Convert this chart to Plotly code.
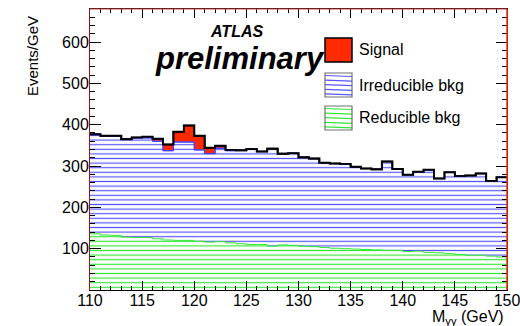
import plotly.graph_objects as go

# Bin lower edges (GeV), 1 GeV bins from 110 to 150
bin_edges = list(range(110, 151))

# Stacked total (signal + irreducible + reducible), per bin
total = [377, 373, 373, 365, 369, 371, 366, 352, 383, 398,
         373, 344, 349, 339, 338, 341, 335, 342, 330, 331,
         321, 318, 308, 306, 305, 298, 294, 292, 311, 293,
         279, 286, 291, 270, 285, 276, 277, 282, 264, 273]

# Signal contribution per bin
signal = [0, 0, 0, 0, 1, 3, 6, 15, 25, 40,
          34, 14, 6, 2, 0, 0, 0, 0, 0, 0,
          0, 0, 0, 0, 0, 0, 0, 0, 0, 0,
          0, 0, 0, 0, 0, 0, 0, 0, 0, 0]

# Reducible background per bin
reducible = [136, 133, 132, 128, 127, 127, 124, 121, 120, 120,
             118, 116, 117, 114, 112, 110, 110, 106, 109, 108,
             106, 105, 103, 101, 100, 99, 98, 97, 96, 96,
             93, 94, 91, 90, 88, 86, 84, 84, 82, 80]

# Irreducible background = total - signal - reducible
irreducible = [t - s - r for t, s, r in zip(total, signal, reducible)]

y_ticks = [100, 200, 300, 400, 500, 600]
x_ticks = [110, 115, 120, 125, 130, 135, 140, 145, 150]

legend_labels = ["Signal", "Irreducible bkg", "Reducible bkg"]

FONT = "Liberation Sans, Arial, Helvetica, sans-serif"
BLUE = "#5656ff"
GREEN = "#33e833"
RED = "#ff2a00"


def step(vals):
    return list(vals) + [vals[-1]]


lvl1 = reducible
lvl2 = [a + b for a, b in zip(lvl1, irreducible)]
lvl3 = [a + b for a, b in zip(lvl2, signal)]

fig = go.Figure()

fig.add_trace(go.Scatter(
    x=bin_edges, y=step(lvl1), mode="lines", line=dict(shape="hv", color=GREEN, width=1),
    fill="tozeroy", fillcolor="white",
    fillpattern=dict(shape="-", fgcolor=GREEN, bgcolor="white", size=4.6, solidity=0.26, fillmode="replace"),
    name=legend_labels[2], showlegend=False))

fig.add_trace(go.Scatter(
    x=bin_edges, y=step(lvl2), mode="lines", line=dict(shape="hv", color=BLUE, width=1),
    fill="tonexty", fillcolor="white",
    fillpattern=dict(shape="-", fgcolor=BLUE, bgcolor="white", size=4.6, solidity=0.26, fillmode="replace"),
    name=legend_labels[1], showlegend=False))

fig.add_trace(go.Scatter(
    x=bin_edges, y=step(lvl3), mode="lines", line=dict(shape="hv", color="black", width=2),
    fill="tonexty", fillcolor=RED,
    name=legend_labels[0], showlegend=False))

# redraw irreducible top line above red fill
fig.add_trace(go.Scatter(
    x=bin_edges, y=step(lvl2), mode="lines", line=dict(shape="hv", color="#3a3aff", width=1),
    showlegend=False, hoverinfo="skip"))
# total outline on top
fig.add_trace(go.Scatter(
    x=bin_edges, y=step(lvl3), mode="lines", line=dict(shape="hv", color="black", width=1.6),
    showlegend=False, hoverinfo="skip"))

# figure placed at the window origin (body margin removed by post_script);
# it is a little wider than the window so the last tick label is not hidden
W, H = 540, 326
PX0, PX1, PY0, PY1 = 90, 507, 9, 290  # plot area in window pixels
L, R = PX0, W - PX1
T, B = PY0, H - PY1
pw, ph = PX1 - PX0, PY1 - PY0


def px_x(p):
    return (p - PX0) / pw


def px_y(p):
    return (PY1 - p) / ph


shapes = []
annotations = []

# frame top/right lines (reddish, as in reference)
shapes.append(dict(type="line", xref="paper", yref="paper", x0=0, x1=1, y0=1, y1=1,
                   line=dict(color="#d04040", width=1)))
shapes.append(dict(type="line", xref="paper", yref="paper", x0=1, x1=1, y0=0, y1=1,
                   line=dict(color="#e03000", width=1.5)))

# custom legend boxes
boxes = [(38, 62), (73, 97), (106, 130)]
bx0, bx1 = 325, 352
shapes.append(dict(type="rect", xref="paper", yref="paper",
                   x0=px_x(bx0), x1=px_x(bx1), y0=px_y(boxes[0][1]), y1=px_y(boxes[0][0]),
                   fillcolor=RED, line=dict(color="black", width=1.5)))
for (top, bot), col in zip(boxes[1:], [BLUE, GREEN]):
    p = top + 2.5
    while p < bot - 1:
        shapes.append(dict(type="line", xref="paper", yref="paper",
                           x0=px_x(bx0), x1=px_x(bx1), y0=px_y(p), y1=px_y(p + 1.0),
                           line=dict(color=col, width=1.2)))
        p += 4.6
    shapes.append(dict(type="rect", xref="paper", yref="paper",
                       x0=px_x(bx0), x1=px_x(bx1), y0=px_y(bot), y1=px_y(top),
                       fillcolor="rgba(0,0,0,0)", line=dict(color="#707070", width=1.2)))

for lab, (top, bot) in zip(legend_labels, boxes):
    annotations.append(dict(text=lab, xref="paper", yref="paper", x=px_x(357), y=px_y((top + bot) / 2),
                            xanchor="left", yanchor="middle", showarrow=False,
                            font=dict(family=FONT, size=16, color="black")))

annotations.append(dict(text="<b><i>ATLAS</i></b>", xref="paper", yref="paper",
                        x=px_x(236), y=px_y(32), xanchor="center", yanchor="middle",
                        showarrow=False, font=dict(family=FONT, size=16, color="black")))
annotations.append(dict(text="<b><i>preliminary</i></b>", xref="paper", yref="paper",
                        x=px_x(240), y=px_y(59), xanchor="center", yanchor="middle",
                        showarrow=False, font=dict(family=FONT, size=31, color="black")))
annotations.append(dict(text="Events/GeV", xref="paper", yref="paper",
                        x=px_x(32), y=px_y(56), xanchor="center", yanchor="middle", textangle=-90,
                        showarrow=False, font=dict(family=FONT, size=15, color="black")))
annotations.append(dict(text="M<sub>γγ</sub> (GeV)", xref="paper", yref="paper",
                        x=px_x(506), y=px_y(317), xanchor="right", yanchor="middle",
                        showarrow=False, font=dict(family=FONT, size=16, color="black")))

fig.update_layout(
    width=W, height=H,
    margin=dict(l=L, r=R, t=T, b=B, autoexpand=False),
    paper_bgcolor="white", plot_bgcolor="white",
    showlegend=False,
    shapes=shapes, annotations=annotations,
    font=dict(family=FONT, size=16, color="black"),
    xaxis=dict(range=[110, 150], tickvals=x_ticks, ticks="inside", ticklen=9, tickcolor="black",
               showline=True, linecolor="black", linewidth=1, mirror="allticks",
               showgrid=False, zeroline=False, automargin=False,
               ticklabelstandoff=-4,
               minor=dict(dtick=1, ticks="inside", ticklen=4, tickcolor="black", showgrid=False),
               tickfont=dict(family=FONT, size=16, color="black")),
    yaxis=dict(range=[0, 680], tickvals=y_ticks, ticks="inside", ticklen=11, tickcolor="black",
               showline=True, linecolor="#a01010", linewidth=1, mirror="allticks",
               showgrid=False, zeroline=False, automargin=False,
               ticklabelstandoff=-3,
               minor=dict(dtick=20, ticks="inside", ticklen=5, tickcolor="black", showgrid=False),
               tickfont=dict(family=FONT, size=16, color="black")),
)

fig.write_html(
    "out.html",
    config={"displayModeBar": False},
    post_script="document.body.style.margin='0';document.body.style.overflow='hidden';",
)
